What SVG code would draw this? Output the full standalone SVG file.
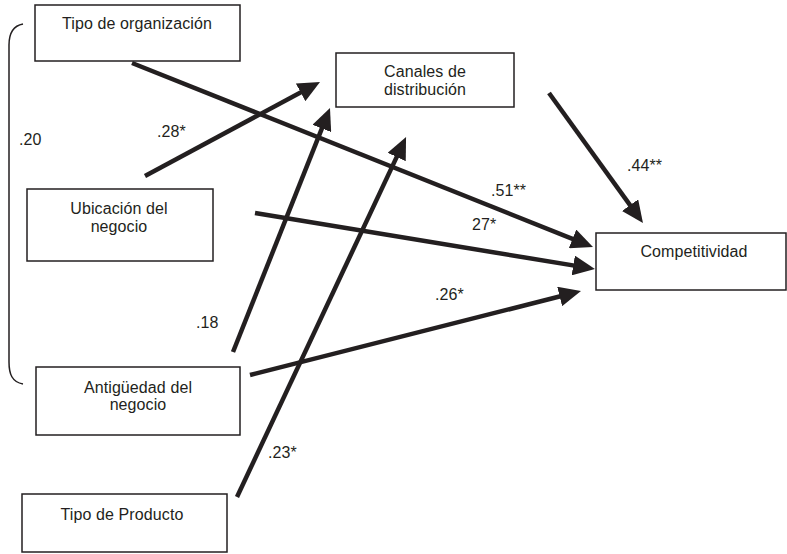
<svg xmlns="http://www.w3.org/2000/svg" width="787" height="554" viewBox="0 0 787 554">
<style>
.box{fill:#fff;stroke:#231f20;stroke-width:1.5}
text{font-family:"Liberation Sans",Arial,sans-serif;font-size:16px;fill:#231f20;letter-spacing:0.1px}
.c{text-anchor:middle}
.arr{stroke:#231f20;stroke-width:4.5;fill:none;marker-end:url(#ah)}
</style>
<defs>
<marker id="ah" markerUnits="userSpaceOnUse" markerWidth="22" markerHeight="20" refX="12" refY="10" orient="auto">
<path d="M0,0 L22,10 L0,20 z" fill="#231f20"/>
</marker>
</defs>
<rect width="787" height="554" fill="#fff"/>
<g id="n-org"><rect class="box" x="35" y="5" width="205" height="56"/><text class="c" x="137" y="29">Tipo de organización</text></g>
<g id="n-canales"><rect class="box" x="336" y="53" width="178" height="54"/><text class="c" x="425" y="77">Canales de</text><text class="c" x="425" y="95">distribución</text></g>
<g id="n-ubic"><rect class="box" x="27" y="189" width="186" height="72"/><text class="c" x="119" y="214">Ubicación del</text><text class="c" x="119" y="232">negocio</text></g>
<g id="n-antig"><rect class="box" x="36" y="367" width="204" height="68"/><text class="c" x="138" y="393">Antigüedad del</text><text class="c" x="138" y="410">negocio</text></g>
<g id="n-prod"><rect class="box" x="22" y="494" width="205" height="58"/><text class="c" x="122" y="520">Tipo de Producto</text></g>
<g id="n-comp"><rect class="box" x="596" y="233" width="190" height="57"/><text class="c" x="694" y="257">Competitividad</text></g>
<g id="connectors">
<path d="M23,24 C12,26 9,34 9,45 L9,362 C9,374 12,382 23,384" fill="none" stroke="#231f20" stroke-width="1.5"/>
<line class="arr" x1="132" y1="63" x2="583.7" y2="243.3"/>
<line class="arr" x1="145" y1="176" x2="311.2" y2="86.7"/>
<line class="arr" x1="255" y1="213" x2="585.1" y2="267.4"/>
<line class="arr" x1="233" y1="352" x2="326.3" y2="117.3"/>
<line class="arr" x1="250" y1="375" x2="571.3" y2="293.5"/>
<line class="arr" x1="237" y1="497" x2="401.8" y2="146.1"/>
<line class="arr" x1="549" y1="93" x2="637.1" y2="214.9"/>
</g>
<g id="labels">
<text x="19" y="145">.20</text>
<text x="157" y="137">.28*</text>
<text x="491" y="196">.51**</text>
<text x="472" y="230">27*</text>
<text x="627" y="171">.44**</text>
<text x="435" y="300">.26*</text>
<text x="196" y="328">.18</text>
<text x="268" y="458">.23*</text>
</g>
</svg>
